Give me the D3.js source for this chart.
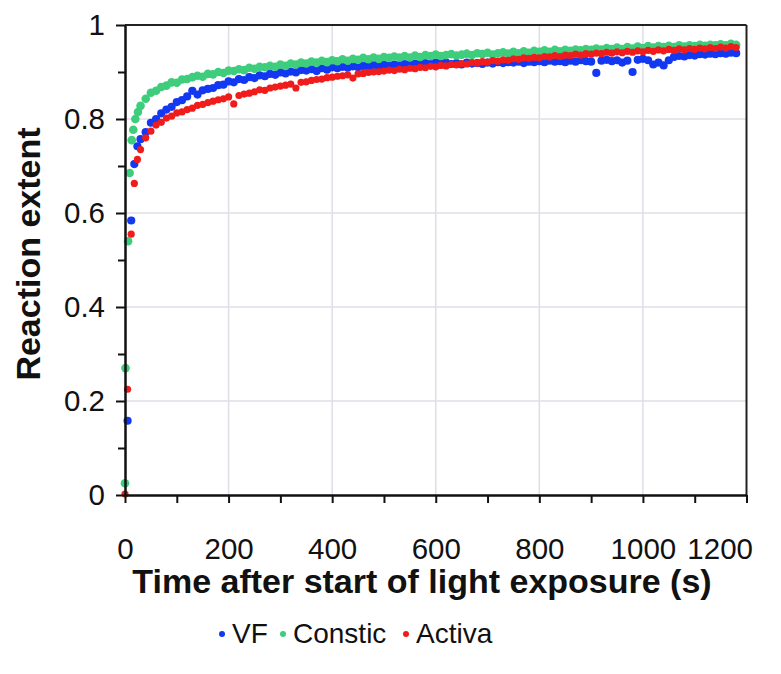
<!DOCTYPE html>
<html>
<head>
<meta charset="utf-8">
<script src="https://cdn.jsdelivr.net/npm/d3@7"></script>
<style>
  body { margin: 0; background: #fff; }
  text { font-family: "Liberation Sans", Arial, Helvetica, sans-serif; }
</style>
</head>
<body>
<div id="chart"></div>
<script>
// Series names and colours
const seriesNames = ["VF", "Constic", "Activa"];
const seriesColors = ["#1238f2", "#3ecd7c", "#f01c1c"];

// Axis ticks
const xTicks = [0, 200, 400, 600, 800, 1000, 1200];
const xMinorTicks = [100, 300, 500, 700, 900, 1100];
const yTicks = [0, 0.2, 0.4, 0.6, 0.8, 1];
const yMinorTicks = [0.1, 0.3, 0.5, 0.7, 0.9];

// First seconds (each series sampled at slightly different times)
const vfEarlyTime = [5, 12, 18, 24];
const vfEarlyExtent = [0.158, 0.584, 0.704, 0.742];
const consticEarlyTime = [0, 1, 6, 9, 13, 16, 20, 25];
const consticEarlyExtent = [0.025, 0.27, 0.54, 0.685, 0.755, 0.777, 0.80, 0.815];
const activaEarlyTime = [0, 5, 12, 18, 24];
const activaEarlyExtent = [0.002, 0.225, 0.555, 0.663, 0.714];

// Regular sampling after that (s)
const sampleTime = [
  30, 40, 50, 60, 70, 80, 90, 100, 110, 120,
  130, 140, 150, 160, 170, 180, 190, 200, 210, 220,
  230, 240, 250, 260, 270, 280, 290, 300, 310, 320,
  330, 340, 350, 360, 370, 380, 390, 400, 410, 420,
  430, 440, 450, 460, 470, 480, 490, 500, 510, 520,
  530, 540, 550, 560, 570, 580, 590, 600, 610, 620,
  630, 640, 650, 660, 670, 680, 690, 700, 710, 720,
  730, 740, 750, 760, 770, 780, 790, 800, 810, 820,
  830, 840, 850, 860, 870, 880, 890, 900, 910, 920,
  930, 940, 950, 960, 970, 980, 990, 1000, 1010, 1020,
  1030, 1040, 1050, 1060, 1070, 1080, 1090, 1100, 1110, 1120,
  1130, 1140, 1150, 1160, 1170, 1180
];

const vfExtent = [
  .757, .772, .792, .800, .812, .820, .826, .836, .840, .848,
  .860, .852, .861, .864, .866, .872, .873, .880, .878, .885,
  .883, .889, .887, .893, .891, .896, .894, .899, .897, .901,
  .899, .904, .903, .906, .902, .908, .905, .910, .908, .911,
  .909, .912, .910, .913, .911, .915, .912, .915, .913, .916,
  .914, .917, .915, .918, .916, .919, .917, .920, .918, .920,
  .917, .919, .916, .920, .918, .919, .917, .920, .918, .921,
  .919, .921, .920, .922, .919, .922, .921, .923, .921, .924,
  .922, .923, .921, .924, .922, .925, .923, .922, .898, .924,
  .926, .923, .925, .920, .924, .900, .926, .928, .925, .916,
  .920, .914, .925, .932, .934, .933, .936, .935, .938, .937,
  .939, .938, .940, .939, .941, .940
];

const consticExtent = [
  .828, .843, .856, .860, .868, .871, .878, .877, .884, .885,
  .889, .892, .890, .896, .895, .900, .898, .903, .902, .906,
  .904, .909, .907, .911, .910, .913, .911, .916, .913, .918,
  .916, .920, .918, .922, .920, .924, .921, .925, .923, .927,
  .924, .928, .926, .930, .927, .931, .928, .932, .930, .933,
  .931, .934, .931, .935, .932, .936, .934, .937, .934, .936,
  .938, .935, .937, .939, .936, .940, .938, .941, .937, .940,
  .942, .939, .943, .940, .944, .941, .945, .943, .946, .943,
  .947, .944, .947, .945, .948, .946, .949, .947, .950, .948,
  .951, .949, .952, .949, .953, .950, .954, .951, .955, .952,
  .955, .953, .956, .953, .957, .954, .957, .955, .958, .956,
  .958, .957, .959, .957, .960, .958
];

const activaExtent = [
  .735, .760, .774, .787, .793, .802, .806, .813, .815, .820,
  .823, .829, .831, .835, .838, .841, .843, .847, .832, .850,
  .853, .855, .858, .862, .861, .866, .868, .870, .872, .874,
  .866, .878, .879, .882, .884, .885, .888, .889, .891, .892,
  .894, .887, .896, .897, .899, .900, .901, .902, .904, .903,
  .906, .905, .908, .907, .910, .909, .912, .911, .914, .913,
  .916, .915, .918, .917, .920, .919, .922, .921, .924, .923,
  .926, .925, .928, .927, .930, .929, .931, .930, .933, .932,
  .935, .933, .936, .935, .938, .936, .939, .938, .940, .939,
  .942, .940, .943, .941, .944, .942, .945, .943, .946, .944,
  .947, .945, .948, .946, .949, .947, .950, .948, .951, .949,
  .952, .950, .953, .951, .954, .952
];

// Assemble series (time, extent pairs)
function pairs(times, values) {
  return times.map((t, i) => ({ t: t, v: values[i] }));
}
const series = [
  { name: seriesNames[0], color: seriesColors[0], r: 4.1,
    points: pairs(vfEarlyTime.concat(sampleTime), vfEarlyExtent.concat(vfExtent)) },
  { name: seriesNames[1], color: seriesColors[1], r: 4.3,
    points: pairs(consticEarlyTime.concat(sampleTime), consticEarlyExtent.concat(consticExtent)) },
  { name: seriesNames[2], color: seriesColors[2], r: 3.6,
    points: pairs(activaEarlyTime.concat(sampleTime), activaEarlyExtent.concat(activaExtent)) }
];

// Dimensions
const W = 781, H = 674;
const margin = { top: 25, right: 34.5, bottom: 179, left: 125 };
const width = W - margin.left - margin.right,
      height = H - margin.top - margin.bottom;

const svg = d3.select("#chart")
  .append("svg")
  .attr("width", W)
  .attr("height", H);

const g = svg.append("g")
  .attr("transform", `translate(${margin.left},${margin.top})`);

const x = d3.scaleLinear().domain([0, 1200]).range([0, width]);
const y = d3.scaleLinear().domain([0, 1]).range([height, 0]);

// Gridlines
g.append("g")
  .selectAll("line")
  .data(xTicks.slice(1, -1))
  .join("line")
  .attr("x1", d => x(d)).attr("x2", d => x(d))
  .attr("y1", 0).attr("y2", height)
  .attr("stroke", "#dedee6")
  .attr("stroke-width", 1.5);
g.append("g")
  .selectAll("line")
  .data(yTicks.slice(1, -1))
  .join("line")
  .attr("x1", 0).attr("x2", width)
  .attr("y1", d => y(d)).attr("y2", d => y(d))
  .attr("stroke", "#dedee6")
  .attr("stroke-width", 1.5);

// Frame on top and right
g.append("line")
  .attr("x1", 0).attr("x2", width).attr("y1", 0).attr("y2", 0)
  .attr("stroke", "#222").attr("stroke-width", 2);
g.append("line")
  .attr("x1", width).attr("x2", width).attr("y1", 0).attr("y2", height)
  .attr("stroke", "#222").attr("stroke-width", 2);

// Points
series.forEach(s => {
  g.append("g")
    .selectAll("circle")
    .data(s.points)
    .join("circle")
    .attr("cx", d => x(d.t))
    .attr("cy", d => y(d.v))
    .attr("r", s.r)
    .attr("fill", s.color);
});

// Axes
function styleAxis(sel, fontSize) {
  sel.select(".domain").attr("stroke", "#111").attr("stroke-width", 2.5);
  sel.selectAll(".tick line").attr("stroke", "#111").attr("stroke-width", 2);
  sel.selectAll(".tick text")
    .attr("fill", "#111")
    .style("font-size", fontSize + "px")
    .style("font-family", '"Liberation Sans", Arial, sans-serif');
}

const yAxisMinor = g.append("g")
  .call(d3.axisLeft(y).tickValues(yMinorTicks).tickSize(7).tickFormat(""));
yAxisMinor.select(".domain").remove();
yAxisMinor.selectAll(".tick line").attr("stroke", "#111").attr("stroke-width", 2);

const xAxisMinor = g.append("g")
  .attr("transform", `translate(0,${height})`)
  .call(d3.axisBottom(x).tickValues(xMinorTicks).tickSize(8).tickFormat(""));
xAxisMinor.select(".domain").remove();
xAxisMinor.selectAll(".tick line").attr("stroke", "#111").attr("stroke-width", 2);

g.append("g")
  .call(d3.axisLeft(y).tickValues(yTicks).tickSizeInner(9).tickSizeOuter(0)
    .tickPadding(11).tickFormat(d3.format("~g")))
  .call(sel => styleAxis(sel, 29.5));

const xAxisG = g.append("g")
  .attr("transform", `translate(0,${height})`)
  .call(d3.axisBottom(x).tickValues(xTicks).tickSizeInner(8).tickSizeOuter(0)
    .tickPadding(35).tickFormat(d3.format("d")))
  .call(sel => styleAxis(sel, 29.5));
// last label kept inside the chart area
xAxisG.selectAll(".tick text")
  .filter(d => d === 1200)
  .attr("text-anchor", "end")
  .attr("x", 6);

// Axis titles
svg.append("text")
  .attr("x", 422)
  .attr("y", 593)
  .attr("text-anchor", "middle")
  .style("font-size", "34px")
  .style("font-weight", "bold")
  .attr("fill", "#111")
  .text("Time after start of light exposure (s)");

svg.append("text")
  .attr("transform", "translate(40,254) rotate(-90)")
  .attr("text-anchor", "middle")
  .style("font-size", "34px")
  .style("font-weight", "bold")
  .attr("fill", "#111")
  .text("Reaction extent");

// Legend
const legendX = [222, 283, 406];
const legend = svg.append("g");
series.forEach((s, i) => {
  const lg = legend.append("g").attr("transform", `translate(${legendX[i]},633)`);
  lg.append("circle").attr("cx", 0).attr("cy", 1).attr("r", 3).attr("fill", s.color);
  lg.append("text")
    .attr("x", 10)
    .attr("y", 10)
    .style("font-size", "28px")
    .attr("fill", "#111")
    .text(s.name);
});
</script>
</body>
</html>
